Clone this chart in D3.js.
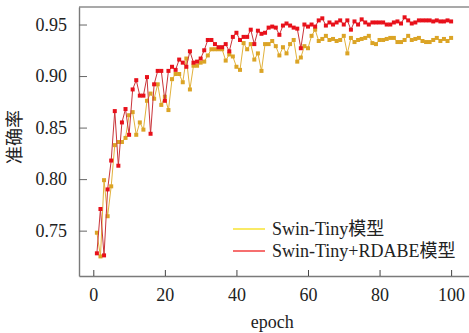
<!DOCTYPE html>
<html>
<head>
<meta charset="utf-8">
<script src="https://cdn.jsdelivr.net/npm/d3@7"></script>
<style>
  body { margin: 0; background: #fff; }
  svg text { font-family: "Liberation Serif", "Times New Roman", "Noto Sans CJK SC", serif; fill: #222; }
</style>
</head>
<body>
<div class="chart"></div>
<script>
var epochs = d3.range(1, 101);

var swinTiny = [
  0.748, 0.725, 0.799, 0.764, 0.793, 0.833, 0.836, 0.836, 0.840, 0.862,
  0.865, 0.843, 0.855, 0.848, 0.876, 0.883, 0.878, 0.892, 0.872, 0.880,
  0.867, 0.897, 0.902, 0.902, 0.894, 0.917, 0.887, 0.910, 0.910, 0.913,
  0.914, 0.920, 0.926, 0.926, 0.926, 0.926, 0.915, 0.921, 0.919, 0.909,
  0.906, 0.932, 0.926, 0.931, 0.916, 0.922, 0.905, 0.931, 0.931, 0.934,
  0.929, 0.920, 0.928, 0.922, 0.931, 0.935, 0.914, 0.918, 0.929, 0.927,
  0.939, 0.945, 0.934, 0.936, 0.939, 0.935, 0.936, 0.934, 0.935, 0.939,
  0.922, 0.937, 0.933, 0.935, 0.936, 0.937, 0.939, 0.932, 0.931, 0.935,
  0.935, 0.936, 0.937, 0.937, 0.933, 0.933, 0.935, 0.939, 0.935, 0.936,
  0.937, 0.934, 0.933, 0.933, 0.935, 0.937, 0.934, 0.936, 0.934, 0.937
];

var swinRdabe = [
  0.728, 0.771, 0.726, 0.790, 0.818, 0.866, 0.813, 0.855, 0.868, 0.843,
  0.887, 0.896, 0.881, 0.881, 0.899, 0.844, 0.892, 0.905, 0.905, 0.876,
  0.905, 0.909, 0.906, 0.916, 0.913, 0.909, 0.924, 0.913, 0.914, 0.917,
  0.925, 0.935, 0.935, 0.931, 0.928, 0.928, 0.931, 0.924, 0.938, 0.942,
  0.935, 0.938, 0.938, 0.945, 0.931, 0.944, 0.941, 0.942, 0.947, 0.948,
  0.947, 0.940, 0.949, 0.951, 0.949, 0.947, 0.946, 0.927, 0.950, 0.948,
  0.950, 0.948, 0.954, 0.956, 0.949, 0.952, 0.950, 0.952, 0.954, 0.950,
  0.954, 0.945, 0.953, 0.950, 0.955, 0.952, 0.950, 0.952, 0.952, 0.952,
  0.952, 0.950, 0.950, 0.952, 0.953, 0.951, 0.957, 0.954, 0.951, 0.952,
  0.954, 0.954, 0.954, 0.954, 0.953, 0.954, 0.953, 0.953, 0.954, 0.953
];

var xTicks = [0, 20, 40, 60, 80, 100];
var yTicks = [0.75, 0.80, 0.85, 0.90, 0.95];
var seriesNames = ['Swin-Tiny模型', 'Swin-Tiny+RDABE模型'];

var fontStack = '"Liberation Serif", "Times New Roman", "Noto Sans CJK SC", serif';
var width = 469, height = 333;
var margin = { top: 7, right: 0, bottom: 57, left: 79 };

var svg = d3.select('.chart')
  .append('svg')
  .attr('width', width)
  .attr('height', height)
  .attr('font-family', fontStack);

var xScale = d3.scaleLinear()
  .domain([-4, 105])
  .range([margin.left, width - margin.right]);

var yScale = d3.scaleLinear()
  .domain([0.706, 0.967])
  .range([height - margin.bottom, margin.top]);

var series = [
  { name: seriesNames[0], values: swinTiny, line: '#e2b23c', mark: '#dba426', legend: '#f5dc00' },
  { name: seriesNames[1], values: swinRdabe, line: '#c9343a', mark: '#e8101a', legend: '#f01010' }
];

// axes: ticks point inward
var xAxis = g => g
  .attr('transform', `translate(0, ${height - margin.bottom})`)
  .call(d3.axisBottom(xScale).tickValues(xTicks).tickSizeInner(-6).tickSizeOuter(0).tickPadding(12))
  .attr('font-family', fontStack)
  .call(g => g.select('.domain').attr('stroke', '#7a7a7a').attr('stroke-width', 1.6))
  .call(g => g.selectAll('.tick line').attr('stroke', '#444'))
  .call(g => g.selectAll('.tick text').attr('font-size', 18).attr('fill', '#222'));

var yAxis = g => g
  .attr('transform', `translate(${margin.left}, 0)`)
  .call(d3.axisLeft(yScale).tickValues(yTicks).tickFormat(d3.format('.2f')).tickSizeInner(-8).tickSizeOuter(0).tickPadding(12))
  .attr('font-family', fontStack)
  .call(g => g.select('.domain').attr('stroke', '#7a7a7a').attr('stroke-width', 1.4))
  .call(g => g.selectAll('.tick line').attr('stroke', '#666'))
  .call(g => g.selectAll('.tick text').attr('font-size', 18).attr('fill', '#222'));

svg.append('g').call(xAxis);
svg.append('g').call(yAxis);

// top frame line
svg.append('line')
  .attr('x1', margin.left).attr('x2', width)
  .attr('y1', margin.top).attr('y2', margin.top)
  .attr('stroke', '#555')
  .attr('stroke-width', 1.2);

var line = d3.line()
  .x((d, i) => xScale(epochs[i]))
  .y(d => yScale(d));

series.forEach(s => {
  svg.append('path')
    .attr('d', line(s.values))
    .attr('fill', 'none')
    .attr('stroke', s.line)
    .attr('stroke-width', 1);

  svg.append('g')
    .selectAll('rect')
    .data(s.values)
    .enter()
    .append('rect')
    .attr('x', (d, i) => xScale(epochs[i]) - 2)
    .attr('y', d => yScale(d) - 2)
    .attr('width', 4)
    .attr('height', 4)
    .attr('fill', s.mark);
});

// legend
var legend = svg.append('g').attr('transform', 'translate(233, 229)');
series.forEach((s, i) => {
  var row = legend.append('g').attr('transform', `translate(0, ${i * 22})`);
  row.append('line')
    .attr('x1', 0).attr('x2', 32)
    .attr('stroke', s.legend)
    .attr('stroke-width', 1.2);
  row.append('text')
    .attr('x', 39)
    .attr('dy', '0.35em')
    .attr('font-size', 18)
    .text(s.name);
});

// axis titles
svg.append('text')
  .attr('x', (xScale(0) + xScale(100)) / 2)
  .attr('y', 328)
  .attr('text-anchor', 'middle')
  .attr('font-size', 18)
  .text('epoch');

svg.append('text')
  .attr('transform', 'translate(15, 137) rotate(-90)')
  .attr('text-anchor', 'middle')
  .attr('dy', '0.35em')
  .attr('font-size', 18)
  .text('准确率');
</script>
</body>
</html>
